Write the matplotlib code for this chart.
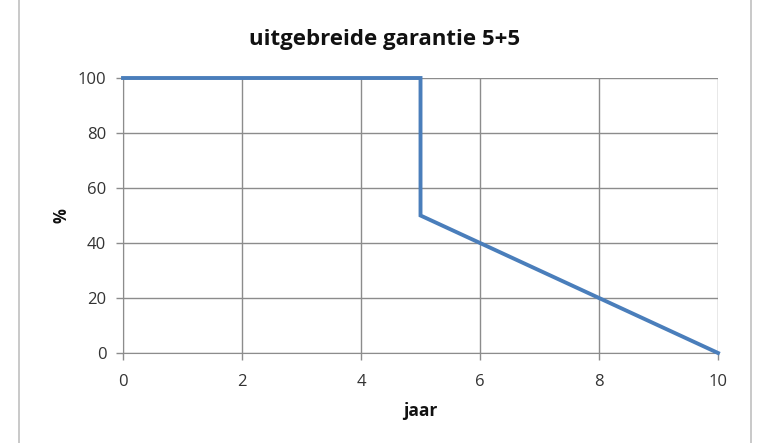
import matplotlib.pyplot as plt
from matplotlib.lines import Line2D

# data: garantie percentage per jaar
jaar = [0, 5, 5, 10]
procent = [100, 100, 50, 0]
x_ticks = [0, 2, 4, 6, 8, 10]
y_ticks = [0, 20, 40, 60, 80, 100]

plt.rcParams['font.family'] = ['Open Sans', 'DejaVu Sans']

fig = plt.figure(figsize=(7.57, 4.43), dpi=100)
ax = fig.add_axes([0.1625, 0.2032, 0.7860, 0.6207])

ax.plot(jaar, procent, color='#4a7ebb', linewidth=2.8, solid_joinstyle='miter', clip_on=False, zorder=3)

ax.set_xlim(0, 10)
ax.set_ylim(0, 100)
ax.set_xticks(x_ticks)
ax.set_yticks(y_ticks)
ax.grid(True, color='#8c8c8c', linewidth=1.0)
ax.set_axisbelow(True)
for s in ['top', 'right']:
    ax.spines[s].set_visible(False)
for s in ['left', 'bottom']:
    ax.spines[s].set_color('#8c8c8c')
ax.tick_params(axis='both', colors='#8c8c8c', length=5, width=1.0, labelcolor='#333333', labelsize=12)
ax.tick_params(axis='x', pad=10)
ax.tick_params(axis='y', pad=7)

# titel gecentreerd over de hele grafiek, niet alleen het plotgebied
fig.text(385 / 757, 1 - 40 / 443, 'uitgebreide garantie 5+5', fontsize=16, fontweight='bold',
         color='#111111', ha='center', va='center')
ax.set_xlabel('jaar', fontsize=12.5, fontweight='bold', labelpad=9, color='#111111')
ax.set_ylabel('%', fontsize=12, fontweight='bold', labelpad=5, color='#111111')

# rand van de grafiek
fig.add_artist(Line2D([19 / 757, 19 / 757], [0, 1], transform=fig.transFigure, color='#c0c0c0', linewidth=1.2))
fig.add_artist(Line2D([751 / 757, 751 / 757], [0, 1], transform=fig.transFigure, color='#c0c0c0', linewidth=1.2))

fig.savefig('out.png', dpi=100)
